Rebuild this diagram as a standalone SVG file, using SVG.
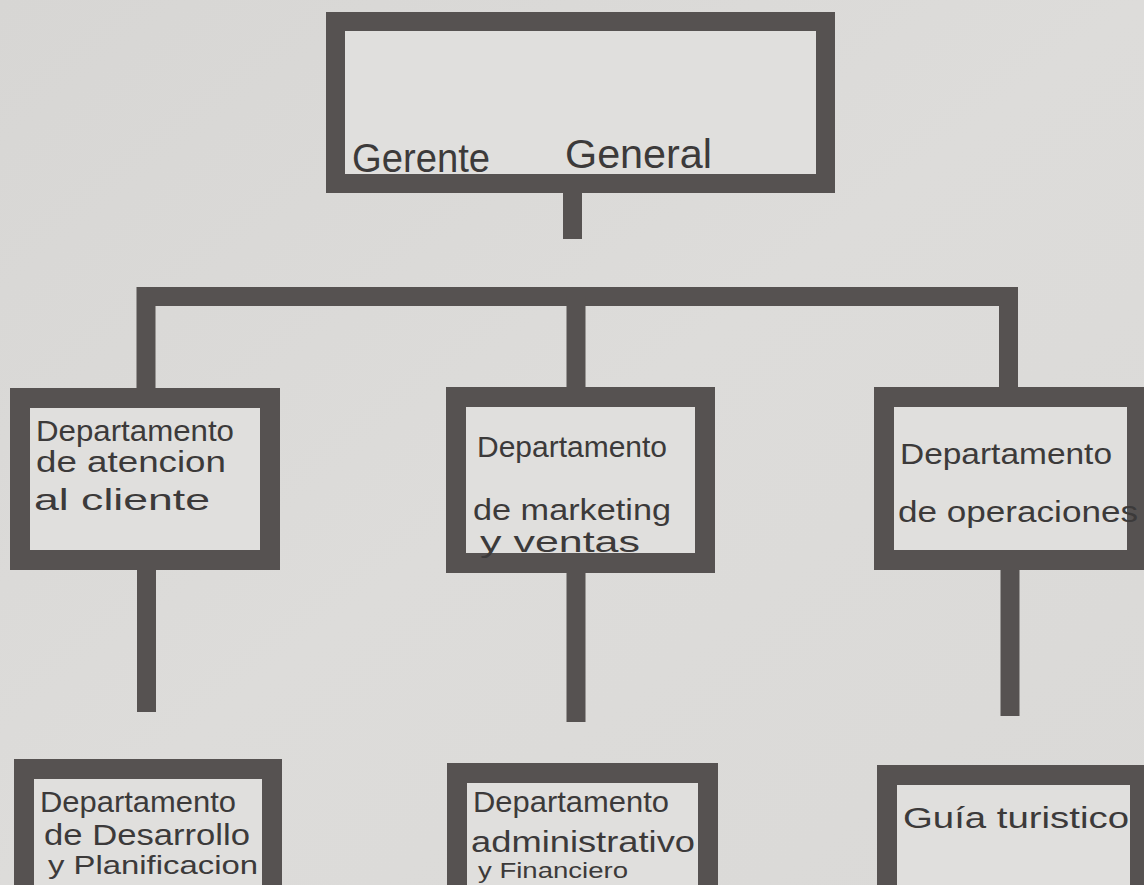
<svg xmlns="http://www.w3.org/2000/svg" width="1144" height="885" viewBox="0 0 1144 885">
  <defs>
    <linearGradient id="paper" x1="0" y1="0" x2="1" y2="1">
      <stop offset="0" stop-color="#d7d6d4"/>
      <stop offset="0.5" stop-color="#dddcda"/>
      <stop offset="1" stop-color="#dad9d7"/>
    </linearGradient>
  </defs>
  <style>
    .box { fill: #e0dfdd; stroke: #565251; stroke-width: 20; }
    .conn { fill: none; stroke: #565251; stroke-width: 19; stroke-linejoin: miter; stroke-linecap: butt; }
    .hand { font-family: "Liberation Sans", "DejaVu Sans", sans-serif; fill: #3c3a3a; font-size: 29px; }
    .title { font-size: 40px; }
  </style>
  <rect x="0" y="0" width="1144" height="885" fill="url(#paper)"/>

  <g id="connectors">
    <path class="conn" d="M572.5,193 V239"/>
    <path class="conn" d="M146,390 V296.5 H1008.5 V389"/>
    <path class="conn" d="M576,296 V389"/>
    <path class="conn" d="M146.5,569 V712"/>
    <path class="conn" d="M576,572 V722"/>
    <path class="conn" d="M1010,569 V716"/>
  </g>

  <g id="gerente-general">
    <rect class="box" x="335.5" y="21.5" width="490" height="162" style="stroke-width:19"/>
    <text class="hand title" x="352" y="172" textLength="138" lengthAdjust="spacingAndGlyphs">Gerente</text>
    <text class="hand title" x="565" y="168" textLength="147" lengthAdjust="spacingAndGlyphs">General</text>
  </g>

  <g id="dep-atencion">
    <rect class="box" x="20" y="398" width="250" height="162"/>
    <text class="hand" x="36" y="441" textLength="198" lengthAdjust="spacingAndGlyphs">Departamento</text>
    <text class="hand" x="36" y="472" textLength="190" lengthAdjust="spacingAndGlyphs">de atencion</text>
    <text class="hand" x="34" y="510" textLength="176" lengthAdjust="spacingAndGlyphs">al cliente</text>
  </g>

  <g id="dep-marketing">
    <rect class="box" x="456" y="397" width="249" height="166"/>
    <text class="hand" x="477" y="457" textLength="190" lengthAdjust="spacingAndGlyphs">Departamento</text>
    <text class="hand" x="473" y="520" textLength="198" lengthAdjust="spacingAndGlyphs">de marketing</text>
    <text class="hand" x="480" y="552" textLength="160" lengthAdjust="spacingAndGlyphs">y ventas</text>
  </g>

  <g id="dep-operaciones">
    <rect class="box" x="884" y="397" width="253" height="163"/>
    <text class="hand" x="900" y="464" textLength="212" lengthAdjust="spacingAndGlyphs">Departamento</text>
    <text class="hand" x="898" y="522" textLength="240" lengthAdjust="spacingAndGlyphs">de operaciones</text>
  </g>

  <g id="dep-desarrollo">
    <rect class="box" x="24" y="769" width="248" height="200"/>
    <text class="hand" x="40" y="812" textLength="196" lengthAdjust="spacingAndGlyphs">Departamento</text>
    <text class="hand" x="44" y="845" textLength="206" lengthAdjust="spacingAndGlyphs">de Desarrollo</text>
    <text class="hand" x="48" y="874" style="font-size:25px" textLength="210" lengthAdjust="spacingAndGlyphs">y Planificacion</text>
  </g>

  <g id="dep-administrativo">
    <rect class="box" x="457" y="773" width="251" height="200"/>
    <text class="hand" x="473" y="812" textLength="196" lengthAdjust="spacingAndGlyphs">Departamento</text>
    <text class="hand" x="471" y="852" textLength="224" lengthAdjust="spacingAndGlyphs">administrativo</text>
    <text class="hand" x="478" y="878" style="font-size:22px" textLength="150" lengthAdjust="spacingAndGlyphs">y Financiero</text>
  </g>

  <g id="guia-turistico">
    <rect class="box" x="887" y="775" width="253" height="200"/>
    <text class="hand" x="903" y="828" textLength="226" lengthAdjust="spacingAndGlyphs">Guía turistico</text>
  </g>
</svg>
